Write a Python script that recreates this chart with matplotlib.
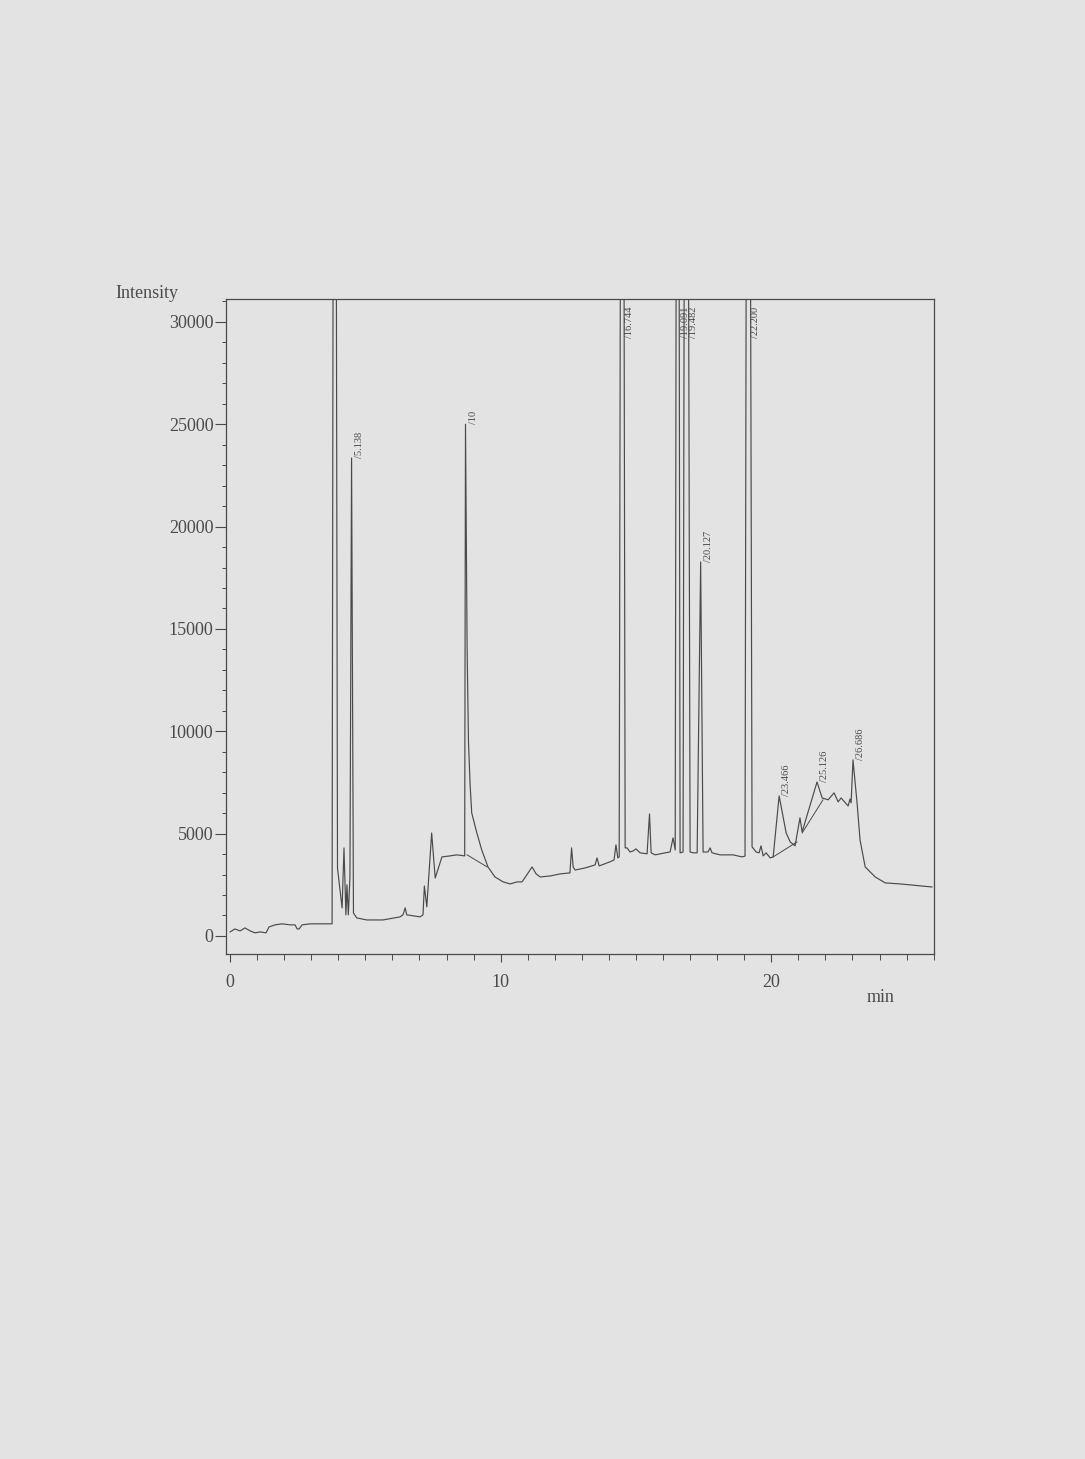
import matplotlib.pyplot as plt
from matplotlib.ticker import MultipleLocator

# chromatogram trace, vertices (time in min, intensity)
t = [0.00, 0.18, 0.37, 0.55, 0.74, 0.92, 1.11, 1.33, 1.44, 1.66, 1.92, 2.22, 2.40, 2.48,
     2.55, 2.66, 2.96, 3.33, 3.73, 3.77, 3.86, 3.97, 3.99, 4.14, 4.21, 4.28, 4.32, 4.37,
     4.43, 4.49, 4.56, 4.68, 5.05, 5.65, 6.28, 6.39, 6.47, 6.53, 7.02, 7.13, 7.18, 7.27,
     7.45, 7.58, 7.64, 7.83, 8.13, 8.38, 8.67, 8.70, 8.76, 8.81, 8.87, 8.93, 9.12, 9.30,
     9.53, 9.79, 10.09, 10.35, 10.61, 10.79, 10.94, 11.16, 11.31, 11.46, 11.83, 12.20,
     12.56, 12.62, 12.68, 12.75, 13.12, 13.49, 13.56, 13.64, 14.04, 14.19, 14.26, 14.33,
     14.38, 14.49, 14.60, 14.67, 14.78, 14.89, 15.00, 15.15, 15.41, 15.50, 15.56, 15.71,
     15.89, 16.08, 16.26, 16.37, 16.45, 16.54, 16.63, 16.74, 16.85, 17.00, 17.11, 17.26,
     17.39, 17.48, 17.66, 17.74, 17.81, 18.11, 18.59, 18.92, 19.03, 19.14, 19.29, 19.44,
     19.55, 19.62, 19.70, 19.81, 19.96, 20.07, 20.29, 20.55, 20.70, 20.88, 21.06, 21.14,
     21.69, 21.88, 22.10, 22.32, 22.47, 22.58, 22.84, 22.91, 22.95, 23.02, 23.17, 23.28,
     23.47, 23.84, 24.21, 24.76, 25.94]
intensity = [195, 340, 245, 390, 245, 150, 195, 150, 440, 540, 590, 540, 540, 340,
             340, 540, 590, 590, 590, 590, 80000, 3300, 3080, 1370, 4300, 1030, 2500, 1030,
             2880, 23350, 1120, 880, 780, 780, 930, 1030, 1370, 1030, 930, 1030, 2440, 1420,
             5030, 2830, 3080, 3860, 3910, 3960, 3910, 25000, 14000, 9500, 7400, 6010, 5030, 4200,
             3370, 2880, 2640, 2540, 2640, 2640, 2930, 3370, 3030, 2880, 2930, 3030,
             3080, 4300, 3370, 3220, 3320, 3470, 3810, 3420, 3620, 3710, 4450, 3810,
             3860, 80000, 4300, 4300, 4100, 4150, 4250, 4060, 4010, 5960, 4060, 3960,
             4010, 4060, 4100, 4790, 4200, 80000, 4060, 4100, 80000, 4100, 4060, 4060,
             18270, 4100, 4100, 4300, 4060, 3960, 3960, 3860, 3900, 80000, 4350, 4100,
             4060, 4400, 3910, 4060, 3810, 3860, 6840, 5030, 4590, 4400, 5770, 5080,
             7520, 6740, 6650, 6990, 6550, 6740, 6350, 6690, 6500, 8600, 6500, 4690,
             3370, 2880, 2590, 2540, 2390]

# integration baselines drawn under some peaks
base_t = [[8.76, 9.50], [20.07, 20.95], [21.14, 21.91]]
base_i = [[3960, 3370], [3860, 4590], [5030, 6650]]

# peak labels: (time, intensity where text starts)
lab_text = ['/5.138', '/10', '/16.744', '/19.091', '/19.482', '/20.127', '/22.200',
            '/23.466', '/25.126', '/26.686']
lab_t = [4.49, 8.72, 14.49, 16.54, 16.85, 17.39, 19.14, 20.29, 21.69, 23.02]
lab_i = [23350, 25000, None, None, None, 18270, None, 6840, 7520, 8600]

bg = '#e3e3e3'
ink = '#4a4a4a'
plt.rcParams['font.family'] = ['Liberation Serif', 'DejaVu Serif']

fig = plt.figure(figsize=(10.85, 14.59), dpi=100, facecolor=bg)
ax = fig.add_axes([0.2083, 0.3459, 0.6522, 0.4489], facecolor=bg)

ax.plot(t, intensity, color=ink, lw=0.85)
for bt, bi in zip(base_t, base_i):
    ax.plot(bt, bi, color=ink, lw=0.7)

for txt, lt, li in zip(lab_text, lab_t, lab_i):
    if li is None:
        ax.text(lt + 0.12, 30750, txt, rotation=90, ha='left', va='top',
                fontsize=7.5, color=ink)
    else:
        ax.text(lt + 0.12, li, txt, rotation=90, ha='left', va='bottom',
                fontsize=7.5, color=ink)

ax.set_xlim(-0.15, 26.0)
ax.set_ylim(-900, 31100)
ax.xaxis.set_major_locator(MultipleLocator(10))
ax.xaxis.set_minor_locator(MultipleLocator(1))
ax.yaxis.set_major_locator(MultipleLocator(5000))
ax.yaxis.set_minor_locator(MultipleLocator(1000))
ax.tick_params(axis='x', which='major', direction='out', length=6, width=0.8,
               pad=8, labelsize=13, colors=ink)
ax.tick_params(axis='x', which='minor', direction='out', length=4, width=0.7, colors=ink)
ax.tick_params(axis='y', which='major', direction='out', length=8, width=0.8,
               pad=1, labelsize=13, colors=ink)
ax.tick_params(axis='y', which='minor', direction='out', length=3, width=0.7, colors=ink)
for s in ax.spines.values():
    s.set_color(ink)
    s.set_linewidth(0.9)

fig.text(147 / 1085, 1 - 294 / 1459, 'Intensity', ha='center', va='center',
         fontsize=13, color=ink)
fig.text(881 / 1085, 1 - 997 / 1459, 'min', ha='center', va='center',
         fontsize=13, color=ink)

fig.savefig('out.png', dpi=100, facecolor=bg)
